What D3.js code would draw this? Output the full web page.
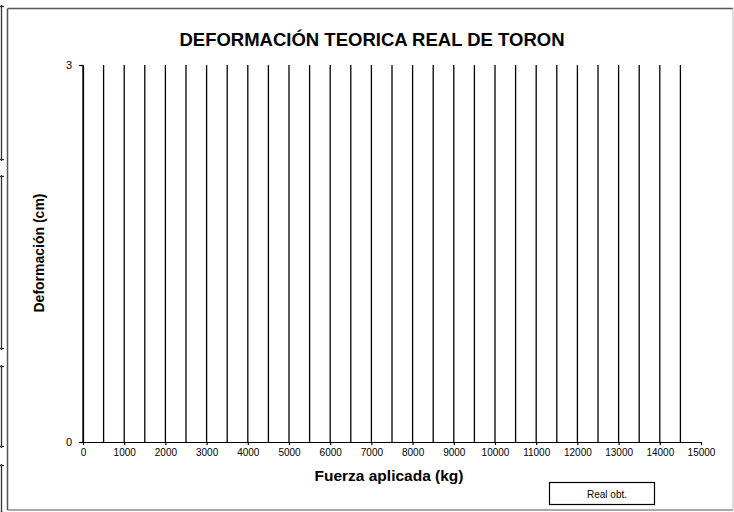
<!DOCTYPE html>
<html>
<head>
<meta charset="utf-8">
<script src="https://cdnjs.cloudflare.com/ajax/libs/d3/7.8.5/d3.min.js"></script>
<style>
  body { margin: 0; background: #fff; }
  svg { display: block; font-family: "Liberation Sans", Arial, sans-serif; }
  .axis path, .axis line { stroke: #000; stroke-width: 1.2; }
  .axis text { fill: #000; }
</style>
</head>
<body>
<svg width="734" height="512"></svg>
<script>
"use strict";

/* datos */
var fuerza = [0, 500, 1000, 1500, 2000, 2500, 3000, 3500, 4000, 4500,
              5000, 5500, 6000, 6500, 7000, 7500, 8000, 8500, 9000, 9500,
              10000, 10500, 11000, 11500, 12000, 12500, 13000, 13500, 14000, 14500];
// los valores salen del eje, se cortan en 3
var deformacion = [3, 3, 3, 3, 3, 3, 3, 3, 3, 3,
                   3, 3, 3, 3, 3, 3, 3, 3, 3, 3,
                   3, 3, 3, 3, 3, 3, 3, 3, 3, 3];
var xTicks = [0, 1000, 2000, 3000, 4000, 5000, 6000, 7000, 8000,
              9000, 10000, 11000, 12000, 13000, 14000, 15000];
var yTicks = [0, 3];
var serie = "Real obt.";

var svg = d3.select("svg"),
    margin = {top: 65, right: 33, bottom: 70, left: 83},
    width = +svg.attr("width"),
    height = +svg.attr("height");

var x = d3.scaleLinear()
    .domain([0, 15000])
    .range([margin.left, width - margin.right]);

var y = d3.scaleLinear()
    .domain([0, 3])
    .range([height - margin.bottom, margin.top]);

// marco exterior
svg.append("line").attr("x1", 7.5).attr("y1", 8.5).attr("x2", 733).attr("y2", 8.5)
   .attr("stroke", "#555").attr("stroke-width", 1.5);
svg.append("line").attr("x1", 7.5).attr("y1", 8.5).attr("x2", 7.5).attr("y2", 510)
   .attr("stroke", "#555").attr("stroke-width", 1.5);
svg.append("line").attr("x1", 7.5).attr("y1", 510).attr("x2", 733).attr("y2", 510)
   .attr("stroke", "#555").attr("stroke-width", 1.2);
svg.append("line").attr("x1", 733).attr("y1", 8.5).attr("x2", 733).attr("y2", 510)
   .attr("stroke", "#bbb").attr("stroke-width", 1);

// marcas de pagina a la izquierda
var tramos = [[5, 161], [175, 350], [365, 448], [464, 514]];
var marcas = svg.append("g").attr("stroke", "#333").attr("stroke-width", 1.3);
tramos.forEach(function(t) {
  marcas.append("line").attr("x1", 1.5).attr("x2", 1.5).attr("y1", t[0]).attr("y2", t[1]);
  marcas.append("line").attr("x1", 0).attr("x2", 4).attr("y1", t[0] + 1.5).attr("y2", t[0] + 1.5);
  marcas.append("line").attr("x1", 0).attr("x2", 4).attr("y1", t[1] - 1.5).attr("y2", t[1] - 1.5);
});

// titulo
svg.append("text")
    .attr("x", 372)
    .attr("y", 46)
    .attr("text-anchor", "middle")
    .attr("font-size", 18.5)
    .attr("font-weight", "bold")
    .text("DEFORMACIÓN TEORICA REAL DE TORON");

// lineas de la serie
svg.append("g")
  .selectAll("line")
  .data(fuerza)
  .enter().append("line")
    .attr("x1", function(d) { return x(d); })
    .attr("x2", function(d) { return x(d); })
    .attr("y1", y(0))
    .attr("y2", function(d, i) { return y(Math.min(deformacion[i], 3)); })
    .attr("stroke", "#000")
    .attr("stroke-width", 1.3);

// ejes
svg.append("g")
    .attr("class", "axis")
    .attr("transform", "translate(0," + y(0) + ")")
    .call(d3.axisBottom(x).tickValues(xTicks).tickSize(3).tickSizeOuter(0).tickPadding(4).tickFormat(d3.format("d")))
    .selectAll("text")
    .attr("font-size", 10);

svg.append("g")
    .attr("class", "axis")
    .attr("transform", "translate(" + x(0) + ",0)")
    .call(d3.axisLeft(y).tickValues(yTicks).tickSize(4).tickSizeOuter(0).tickPadding(7).tickFormat(d3.format("d")))
    .selectAll("text")
    .attr("font-size", 11);

svg.selectAll(".axis .domain").attr("fill", "none");

// titulos de ejes
svg.append("text")
    .attr("x", 389)
    .attr("y", 481)
    .attr("text-anchor", "middle")
    .attr("font-size", 15.5)
    .attr("font-weight", "bold")
    .text("Fuerza aplicada (kg)");

svg.append("text")
    .attr("transform", "translate(44,253) rotate(-90)")
    .attr("text-anchor", "middle")
    .attr("font-size", 14)
    .attr("font-weight", "bold")
    .text("Deformación (cm)");

// leyenda
var legend = svg.append("g");
legend.append("rect")
    .attr("x", 549.5)
    .attr("y", 482.5)
    .attr("width", 105)
    .attr("height", 22)
    .attr("fill", "#fff")
    .attr("stroke", "#000")
    .attr("stroke-width", 1.2);
legend.append("text")
    .attr("x", 607)
    .attr("y", 497.5)
    .attr("text-anchor", "middle")
    .attr("font-size", 10)
    .text(serie);
</script>
</body>
</html>
